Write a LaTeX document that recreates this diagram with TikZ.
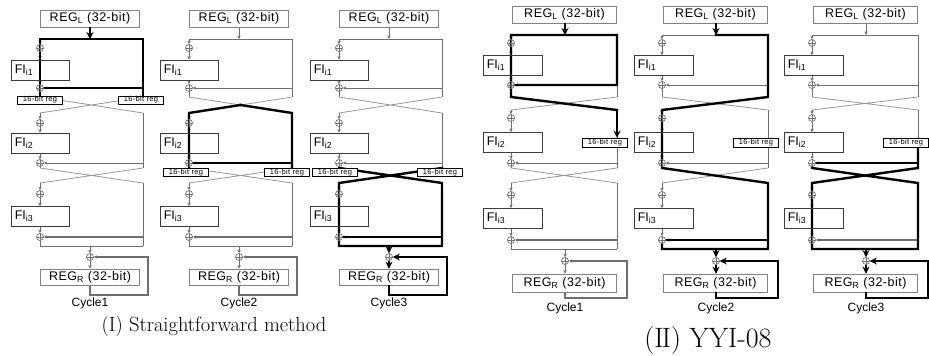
\documentclass[tikz,border=0pt]{standalone}
\usepackage{fontspec}
\newfontfamily\arial{Liberation Sans}
\newfontfamily\arialsp[LetterSpace=4]{Liberation Sans}
\usetikzlibrary{arrows.meta,calc}
\definecolor{gcol}{RGB}{110,110,110}
\definecolor{xcol}{RGB}{150,150,150}
\definecolor{rcol}{RGB}{130,130,130}
\definecolor{fcol}{RGB}{60,60,60}
\pgfdeclarelayer{base}
\pgfdeclarelayer{hlay}
\pgfsetlayers{base,hlay,main}
\tikzset{
 gline/.style={draw=gcol, line width=1pt},
 garrow/.style={gline, -{Stealth[length=3.5pt,width=3.4pt]}},
 xline/.style={draw=xcol, line width=0.8pt},
 hl/.style={draw=black, line width=2.4pt, line cap=rect, line join=miter},
 hlarrow/.style={draw=black, line width=2.4pt, -{Stealth[length=7pt,width=7pt]}},
 xor/.style={circle, draw=gcol, line width=0.7pt, inner sep=0pt, minimum size=7pt,
   path picture={\draw[gcol,line width=0.7pt] (path picture bounding box.north) -- (path picture bounding box.south) (path picture bounding box.west) -- (path picture bounding box.east);}},
 regbox/.style={draw=rcol, line width=0.8pt, inner sep=0pt, minimum width=\regw, font=\arialsp\fontsize{12.5}{14}\selectfont},
 fibox/.style={draw=fcol, line width=0.8pt, inner sep=0pt, minimum width=\fiw, minimum height=\fih},
 filab/.style={anchor=west, inner sep=0pt, font=\arial\fontsize{12.5}{14}\selectfont},
 cyc/.style={inner sep=0pt, font=\arial\fontsize{12}{14}\selectfont},
 labsixteen/.style={draw=black, fill=white, line width=0.6pt, inner sep=0pt, minimum width=45pt, minimum height=8pt, font=\arialsp\fontsize{7.5}{8}\selectfont},
 captxt/.style={inner sep=0pt}
}
\newcommand\panelI{%
 \def\W{103}\def\C{50}\def\regx{50}\def\regw{98.6pt}\def\fix{0}\def\fiw{58pt}\def\fih{20pt}\def\FR{108}%
 \def\yRL{18.5}\def\yRR{277}\def\regh{17pt}\def\regRh{16pt}%
 \def\yTop{39}\def\yXa{48}\def\yFa{70}\def\yXb{88}\def\yCa{97}\def\yCb{113}\def\yXc{123}%
 \def\yFb{143}\def\yXd{163}\def\yCc{168}\def\yCd{183}\def\yXe{194}\def\yFc{216.5}%
 \def\yXf{237}\def\yBot{246}\def\yXr{257}\def\yFbk{295}\def\yCyc{303}}
\newcommand\panelII{%
 \def\W{106}\def\C{54}\def\regx{53.5}\def\regw{104pt}\def\fix{1.5}\def\fiw{59pt}\def\fih{20pt}\def\FR{116}%
 \def\yRL{14.5}\def\yRR{283}\def\regh{17pt}\def\regRh{18pt}%
 \def\yTop{35}\def\yXa{43}\def\yFa{65.5}\def\yXb{85}\def\yCa{97}\def\yCb{110}\def\yXc{118}%
 \def\yFb{142.5}\def\yXd{163}\def\yCc{168}\def\yCd{183}\def\yXe{195}\def\yFc{218.5}%
 \def\yXf{240}\def\yBot{249}\def\yXr{261}\def\yFbk{298}\def\yCyc{308}}
\newcommand\mycol[3]{%
\begin{scope}[shift={(#2,0)}]
\pgfmathsetmacro\xM{\W/2}
\pgfmathsetmacro\yAM{(\yCa+\yCb)/2}
\pgfmathsetmacro\yCM{(\yCc+\yCd)/2}
\node[regbox,minimum height=\regh] (#1RL) at (\regx,\yRL) {REG\textsubscript{L} (32-bit)};
\node[regbox,minimum height=\regRh] (#1RR) at (\regx,\yRR) {REG\textsubscript{R} (32-bit)};
\node[fibox] (#1F1) at (\fix,\yFa) {};
\node[fibox] (#1F2) at (\fix,\yFb) {};
\node[fibox] (#1F3) at (\fix,\yFc) {};
\node[filab] (#1f1) at ([xshift=4pt]#1F1.west) {FI\textsubscript{i1}};
\node[filab] (#1f2) at ([xshift=4pt]#1F2.west) {FI\textsubscript{i2}};
\node[filab] (#1f3) at ([xshift=4pt]#1F3.west) {FI\textsubscript{i3}};
\node[xor] (#1X1) at (0,\yXa) {};
\node[xor] (#1X2) at (0,\yXb) {};
\node[xor] (#1X3) at (0,\yXc) {};
\node[xor] (#1X4) at (0,\yXd) {};
\node[xor] (#1X5) at (0,\yXe) {};
\node[xor] (#1X6) at (0,\yXf) {};
\node[xor] (#1XR) at (\C,\yXr) {};
\node[cyc] (#1cy) at (\C,\yCyc) {Cycle#3};
\coordinate (#1T0) at (0,\yTop);
\coordinate (#1T1) at (\W,\yTop);
\coordinate (#1TC) at (\C,\yTop);
\coordinate (#1A0) at (0,\yCa);
\coordinate (#1A1) at (\W,\yCa);
\coordinate (#1B0) at (0,\yCb);
\coordinate (#1B1) at (\W,\yCb);
\coordinate (#1C0) at (0,\yCc);
\coordinate (#1C1) at (\W,\yCc);
\coordinate (#1D0) at (0,\yCd);
\coordinate (#1D1) at (\W,\yCd);
\coordinate (#1E0) at (0,\yBot);
\coordinate (#1E1) at (\W,\yBot);
\coordinate (#1EC) at (\C,\yBot);
\coordinate (#1K0) at (\C,\yFbk);
\coordinate (#1K1) at (\FR,\yFbk);
\coordinate (#1K2) at (\FR,\yXr);
\coordinate (#1AM) at (\xM,\yAM);
\coordinate (#1CM) at (\xM,\yCM);
\begin{pgfonlayer}{base}
\draw[garrow] (#1RL.south -| #1TC) -- (#1TC);
\draw[gline] (#1T0) -- (#1T1) -- (#1A1);
\draw[garrow] (#1T0) -- (#1X1);
\draw[garrow] (#1X1) -- (#1F1.north -| #1X1);
\draw[garrow] (#1F1.south -| #1X1) -- (#1X2);
\draw[garrow] (#1X2 -| #1T1) -- (#1X2);
\draw[gline] (#1X2) -- (#1A0);
\draw[xline] (#1A0) -- (#1B1) (#1A1) -- (#1B0);
\draw[garrow] (#1B0) -- (#1X3);
\draw[garrow] (#1X3) -- (#1F2.north -| #1X3);
\draw[garrow] (#1F2.south -| #1X3) -- (#1X4);
\draw[gline] (#1B1) -- (#1C1);
\draw[garrow] (#1X4 -| #1B1) -- (#1X4);
\draw[gline] (#1X4) -- (#1C0);
\draw[xline] (#1C0) -- (#1D1) (#1C1) -- (#1D0);
\draw[garrow] (#1D0) -- (#1X5);
\draw[garrow] (#1X5) -- (#1F3.north -| #1X5);
\draw[garrow] (#1F3.south -| #1X5) -- (#1X6);
\draw[gline] (#1D1) -- (#1E1);
\draw[garrow,line width=1.4pt] (#1X6 -| #1D1) -- (#1X6);
\draw[gline] (#1X6) -- (#1E0) -- (#1E1);
\draw[garrow] (#1EC) -- (#1XR);
\draw[garrow] (#1XR) -- (#1RR.north -| #1XR);
\draw[garrow,line width=1.2pt] (#1RR.south -| #1XR) -- (#1K0) -- (#1K1) -- (#1K2) -- (#1XR);
\end{pgfonlayer}
\end{scope}}
\begin{document}
\begin{tikzpicture}[x=1pt,y=-1pt]
\path[use as bounding box] (0,0) rectangle (929,356);
\panelI
\mycol{a}{40}{1}
\mycol{b}{189}{2}
\mycol{c}{339}{3}
\panelII
\mycol{d}{511}{1}
\mycol{e}{662}{2}
\mycol{f}{812}{3}
% 16-bit registers
\node[labsixteen] (a16l) at (40,100) {16-bit reg};
\node[labsixteen] (a16r) at (141,100) {16-bit reg};
\node[labsixteen] (b16l) at (186,172.5) {16-bit reg};
\node[labsixteen] (b16r) at (287,172.5) {16-bit reg};
\node[labsixteen] (c16l) at (335,172.5) {16-bit reg};
\node[labsixteen] (c16r) at (440,172.5) {16-bit reg};
\node[labsixteen,minimum height=9pt] (d16) at (605,142.5) {16-bit reg};
\node[labsixteen,minimum height=9pt] (e16) at (756,142.5) {16-bit reg};
\node[labsixteen,minimum height=9pt] (f16) at (906,142.5) {16-bit reg};
% highlighted data paths
\begin{pgfonlayer}{hlay}
\draw[hl] (aT0) -- (aT1) -- (aA1);
\draw[hl] (aT0) -- (aA0);
\draw[hl] (aX2 -| aT1) -- (aX2.east);
\draw[hl] (bAM) -- (bB0) -- (bC0);
\draw[hl] (bAM) -- (bB1) -- (bC1);
\draw[hl] (bX4 -| bB1) -- (bX4.east);
\draw[hl] (cC0) -- (cD1) -- (cE1) -- (cE0) -- (cD0) -- (cC1);
\draw[hl] (cX6 -| cD1) -- (cX6.east);
\draw[hl] (dX2.east) -- (dX2 -| dT1) -- (dT1) -- (dT0) -- (dA0) -- (dB1);
\draw[hl] (eTC) -- (eT1) -- (eA1) -- (eB0) -- (eC0) -- (eD1) -- (eE1) -- (eE0) -- (eX6.south);
\draw[hl] (eX6 -| eD1) -- (eX6.east);
\draw[hl] (f16.south -| fC1) -- (fC1) -- (fD0) -- (fE0) -- (fE1) -- (fD1) -- (fC0) -- (fX4.south);
\draw[hl] (fX4 -| fC1) -- (fX4.east);
\end{pgfonlayer}
\draw[hlarrow] (aRL.south -| aTC) -- (aTC);
\draw[hlarrow] (dRL.south -| dTC) -- (dTC);
\draw[hlarrow] (eRL.south -| eTC) -- (eTC);
\draw[hlarrow] (dB1) -- (d16.north -| dB1);
\draw[hlarrow] (cEC) -- (cXR);
\draw[hlarrow] (cXR) -- (cRR.north -| cXR);
\draw[hlarrow] (cRR.south -| cXR) -- (cK0) -- (cK1) -- (cK2) -- (cXR);
\draw[hlarrow] (eEC) -- (eXR);
\draw[hlarrow] (eXR) -- (eRR.north -| eXR);
\draw[hlarrow] (eRR.south -| eXR) -- (eK0) -- (eK1) -- (eK2) -- (eXR);
\draw[hlarrow] (fEC) -- (fXR);
\draw[hlarrow] (fXR) -- (fRR.north -| fXR);
\draw[hlarrow] (fRR.south -| fXR) -- (fK0) -- (fK1) -- (fK2) -- (fXR);
% captions
\node[captxt] (capI) at (214,326) {\fontsize{20.5}{22}\selectfont (I) Straightforward method};
\node[captxt] (capII) at (708,341) {\fontsize{28}{30}\selectfont (I\kern-0.06em I) YYI-08};
\end{tikzpicture}
\end{document}
